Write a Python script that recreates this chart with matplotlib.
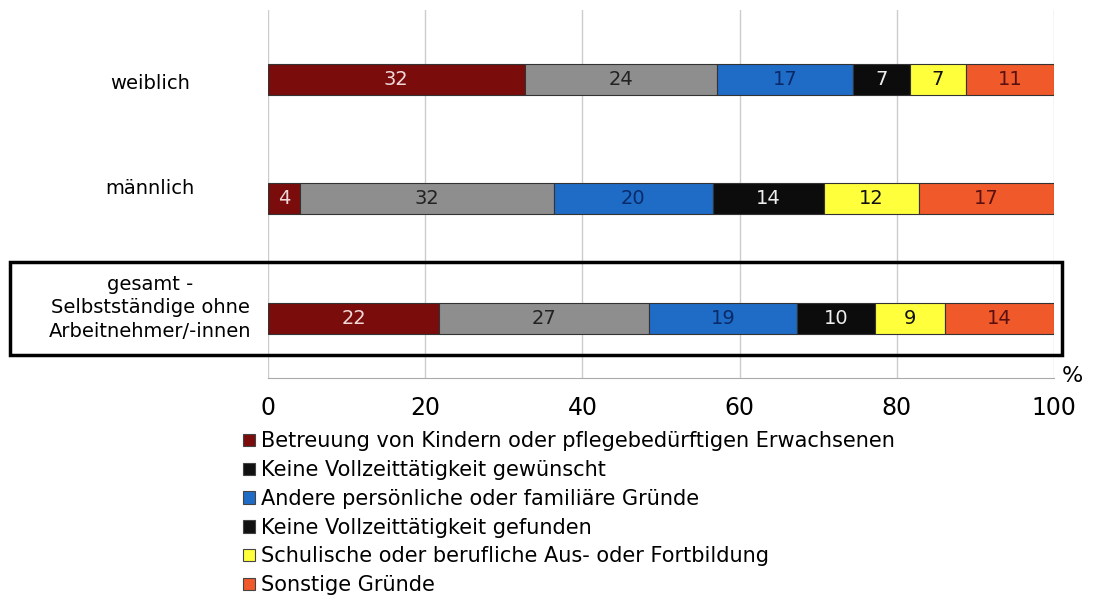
import numpy as np
import matplotlib.pyplot as plt
from matplotlib.patches import Rectangle, Patch

# Daten (Anteile in %)
kategorien = ["gesamt -\nSelbstständige ohne\nArbeitnehmer/-innen", "männlich", "weiblich"]
gruende = [
    "Betreuung von Kindern oder pflegebedürftigen Erwachsenen",
    "Keine Vollzeittätigkeit gewünscht",
    "Andere persönliche oder familiäre Gründe",
    "Keine Vollzeittätigkeit gefunden",
    "Schulische oder berufliche Aus- oder Fortbildung",
    "Sonstige Gründe",
]
betreuung = [22, 4, 32]
nicht_gewuenscht = [27, 32, 24]
andere = [19, 20, 17]
nicht_gefunden = [10, 14, 7]
bildung = [9, 12, 7]
sonstige = [14, 17, 11]

werte = np.array([betreuung, nicht_gewuenscht, andere, nicht_gefunden, bildung, sonstige], dtype=float)
# Balken auf 100 % strecken (gerundete Werte ergeben nicht genau 100)
anteile = werte / werte.sum(axis=0) * 100

farben = ["#7a0c0c", "#8e8e8e", "#1e6cc6", "#0c0c0c", "#ffff3c", "#f05a2a"]
textfarben = ["#f0d8d8", "#222222", "#0a2a6a", "#eeeeee", "#111111", "#5a1010"]
legendfarben = ["#7a0c0c", "#111111", "#1e6cc6", "#111111", "#ffff3c", "#f05a2a"]

fig = plt.figure(figsize=(11.1, 5.96), dpi=100)
ax = fig.add_axes([268 / 1110, 1 - 378 / 596, (1054 - 268) / 1110, 368 / 596])

y = np.arange(len(kategorien))
links = np.zeros(len(kategorien))
for w, a, f, tf in zip(werte, anteile, farben, textfarben):
    ax.barh(y, a, left=links, height=0.26, color=f, edgecolor="#333333", linewidth=0.8, zorder=3)
    for yi, li, ai, wi in zip(y, links, a, w):
        ax.text(li + ai / 2, yi, str(int(wi)), ha="center", va="center", fontsize=14, color=tf, zorder=4)
    links = links + a

ax.set_xlim(0, 100)
ax.set_ylim(-0.5, 2.583)
ax.set_xticks(np.arange(0, 101, 20))
ax.set_yticks(y)
ax.set_yticklabels([])
# Kategorienamen zentriert links neben den Balken (leicht versetzt wie im Original)
for yi, k, versatz in zip(y, kategorien, [0.09, 0.09, -0.03]):
    ax.text(-0.15, yi + versatz, k, transform=ax.get_yaxis_transform(), ha="center", va="center",
            fontsize=14, linespacing=1.3, multialignment="center")
ax.tick_params(axis="both", length=0)
ax.tick_params(axis="x", labelsize=17, pad=13)
ax.grid(axis="x", color="#cccccc", linewidth=1, zorder=0)
for s in ["top", "right", "left"]:
    ax.spines[s].set_visible(False)
ax.spines["bottom"].set_color("#aaaaaa")

fig.text(1062 / 1110, 1 - 376 / 596, "%", fontsize=16, ha="left", va="center")

# Rahmen um "gesamt"
fig.add_artist(Rectangle((10 / 1110, 1 - 355 / 596), 1052 / 1110, 93 / 596,
                         transform=fig.transFigure, fill=False, edgecolor="black", linewidth=2.5))

handles = [Patch(facecolor=c, edgecolor="#444444", linewidth=0.8) for c in legendfarben]
fig.legend(handles, gruende, loc="upper left", bbox_to_anchor=(233 / 1110, 1 - 421 / 596),
           frameon=False, fontsize=15, handlelength=0.55, handleheight=0.55,
           handletextpad=0.3, labelspacing=0.42, borderpad=0)

fig.savefig("out.png", dpi=100)
